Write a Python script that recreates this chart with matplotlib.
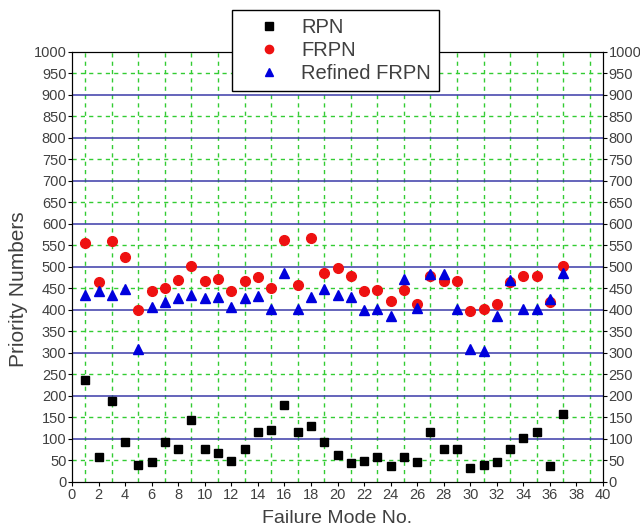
import numpy as np
import matplotlib.pyplot as plt
import matplotlib as mpl

mpl.rcParams["font.family"] = ["Liberation Sans", "DejaVu Sans"]

failure_mode = list(range(1, 38))
rpn = [236, 57, 188, 93, 40, 46, 93, 76, 143, 76, 67, 48, 76, 116, 122, 178, 116, 130, 93,
       62, 45, 48, 57, 37, 57, 46, 116, 76, 76, 33, 40, 46, 76, 103, 116, 37, 157]
frpn = [555, 465, 560, 523, 401, 443, 451, 469, 503, 468, 471, 443, 468, 477, 450, 563, 457,
        567, 487, 498, 478, 444, 447, 420, 446, 415, 478, 468, 468, 398, 402, 415, 464, 478,
        478, 418, 502]
refined_frpn = [434, 444, 434, 448, 309, 408, 419, 429, 434, 429, 431, 408, 428, 433, 403, 487,
                403, 431, 448, 434, 431, 400, 403, 386, 473, 405, 484, 484, 403, 309, 305, 387,
                470, 403, 403, 426, 487]

TEXT_COLOR = "#404040"
GREEN = "#33cc33"
BLUE = "#3a3aa8"

fig = plt.figure(figsize=(6.4, 5.26), dpi=100)
ax = fig.add_axes([0.1125, 0.0837, 0.8297, 0.8175])

# grid: green dashed at odd x and every 50 in y, blue solid at every 100
for xv in range(1, 40, 2):
    ax.axvline(xv, color=GREEN, linestyle=(0, (3, 3)), linewidth=1.0, zorder=1)
for yv in range(50, 1000, 100):
    ax.axhline(yv, color=GREEN, linestyle=(0, (3, 3)), linewidth=1.0, zorder=1)
for yv in range(100, 1000, 100):
    ax.axhline(yv, color=BLUE, linestyle="-", linewidth=1.1, zorder=1.5)

h1, = ax.plot(failure_mode, rpn, "s", color="black", markersize=6, label="RPN", zorder=3)
h2, = ax.plot(failure_mode, frpn, "o", color="#ee1111", markersize=7, label="FRPN", zorder=3)
h3, = ax.plot(failure_mode, refined_frpn, "^", color="#0000dd", markersize=7.5,
              label="Refined FRPN", zorder=4)

ax.set_xlim(0, 40)
ax.set_ylim(0, 1000)
ax.set_xticks(range(0, 41, 2))
ax.set_yticks(range(0, 1001, 50))
ax.tick_params(axis="both", direction="out", length=3, labelsize=10.5,
               labelcolor=TEXT_COLOR, pad=1)

ax2 = ax.twinx()
ax2.set_ylim(0, 1000)
ax2.set_yticks(range(0, 1001, 50))
ax2.tick_params(axis="y", direction="out", length=3, labelsize=10.5,
                labelcolor=TEXT_COLOR, pad=1)

ax.set_xlabel("Failure Mode No.", fontsize=14, color=TEXT_COLOR, labelpad=6)
ax.set_ylabel("Priority Numbers", fontsize=15, color=TEXT_COLOR)
ax.yaxis.set_label_coords(-0.083, 0.449)

leg = ax2.legend([h1, h2, h3], ["RPN", "FRPN", "Refined FRPN"], loc="upper left",
                 bbox_to_anchor=(232 / 640, 1 - 10 / 526), bbox_transform=fig.transFigure,
                 fontsize=14.5, fancybox=False, framealpha=1, edgecolor="black",
                 borderpad=0.4, labelspacing=0.2, handlelength=2.9, handletextpad=0.15,
                 borderaxespad=0, markerscale=0.85)
leg.get_frame().set_linewidth(1.0)
for t in leg.get_texts():
    t.set_color(TEXT_COLOR)

fig.savefig("out.png", dpi=100)
